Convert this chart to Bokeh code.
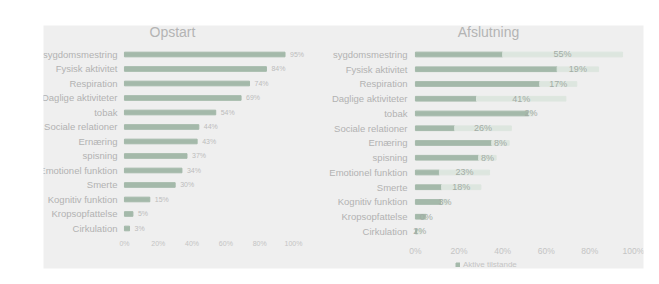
from bokeh.plotting import figure
from bokeh.models import Range1d, Legend, LegendItem
from bokeh.core.properties import value
from bokeh.embed import file_html
from bokeh.resources import INLINE

categories = ["sygdomsmestring", "Fysisk aktivitet", "Respiration", "Daglige aktiviteter",
              "tobak", "Sociale relationer", "Ernæring", "spisning", "Emotionel funktion",
              "Smerte", "Kognitiv funktion", "Kropsopfattelse", "Cirkulation"]
opstart = [95, 84, 74, 69, 54, 44, 43, 37, 34, 30, 15, 5, 3]
afslut_aktive = [40, 65, 57, 28, 52, 18, 35, 29, 11, 12, 12, 5, 1]
afslut_rest = [55, 19, 17, 41, 2, 26, 8, 8, 23, 18, 3, 0, 2]
x_ticks = [0, 20, 40, 60, 80, 100]
tick_labels = [f"{t}%" for t in x_ticks]
titles = ["Opstart", "Afslutning"]

GREY = "#efefef"
DARK = "#a4b9aa"
LIGHT = "#dde6df"
FONT = "Liberation Sans"
F = value(FONT)

n = len(categories)
rows = list(range(n))

p = figure(width=653, height=282, output_backend="svg", toolbar_location=None,
           x_axis_location=None, y_axis_location=None,
           x_range=Range1d(-47.9, 307.1), y_range=Range1d(14.76, -2.0),
           min_border_left=43, min_border_right=10, min_border_top=25, min_border_bottom=14)
p.extra_x_ranges = {"r": Range1d(-170.6, 104.6)}
p.extra_y_ranges = {"r": Range1d(14.51, -1.966)}
p.background_fill_color = GREY
p.border_fill_color = "white"
p.outline_line_color = None
p.grid.visible = False

# ---- Opstart (left panel) ----
p.hbar(y=rows, left=0, right=opstart, height=0.32, color=DARK)
p.text(x=opstart, y=rows, text=[f"{v}%" for v in opstart], x_offset=5,
       text_align="left", text_baseline="middle", text_font_size="7px",
       text_color="#bcbcbc", text_font=F)
p.text(x=[0] * n, y=rows, text=categories, x_offset=-7, text_align="right",
       text_baseline="middle", text_font_size="9.5px", text_color="#b2b2b2", text_font=F)
p.text(x=x_ticks, y=[n + 0.03] * len(x_ticks), text=tick_labels, text_align="center",
       text_baseline="middle", text_font_size="7px", text_color="#c4c4c4", text_font=F)
p.text(x=[28.4], y=[-1.52], text=[titles[0]], text_align="center",
       text_baseline="middle", text_font_size="14px", text_color="#b4b4b4", text_font=F)

# ---- Afslutning (right panel) ----
end = [a + r for a, r in zip(afslut_aktive, afslut_rest)]
mid = [a + r / 2 for a, r in zip(afslut_aktive, afslut_rest)]
r_dark = p.hbar(y=rows, left=0, right=afslut_aktive, height=0.32, color=DARK,
                x_range_name="r", y_range_name="r")
p.hbar(y=rows, left=afslut_aktive, right=end, height=0.32, color=LIGHT,
       x_range_name="r", y_range_name="r")
p.text(x=mid, y=rows, text=[f"{v}%" for v in afslut_rest], text_align="center",
       text_baseline="middle", text_font_size="9px", text_color="#a3aca5", text_font=F,
       x_range_name="r", y_range_name="r")
p.text(x=[0] * n, y=rows, text=categories, x_offset=-8, text_align="right",
       text_baseline="middle", text_font_size="9.5px", text_color="#b2b2b2", text_font=F,
       x_range_name="r", y_range_name="r")
p.text(x=x_ticks, y=[n + 0.29] * len(x_ticks), text=tick_labels, text_align="center",
       text_baseline="middle", text_font_size="8.5px", text_color="#c4c4c4", text_font=F,
       x_range_name="r", y_range_name="r")
p.text(x=[33.5], y=[-1.52], text=[titles[1]], text_align="center",
       text_baseline="middle", text_font_size="14px", text_color="#b4b4b4", text_font=F,
       x_range_name="r")

legend = Legend(items=[LegendItem(label="Aktive tilstande", renderers=[r_dark])],
                orientation="horizontal", location=(412, -1),
                background_fill_alpha=0, border_line_color=None,
                label_text_font=FONT, label_text_font_size="8px", label_text_color="#c4c4c4",
                glyph_width=5, glyph_height=5, padding=0, margin=0, spacing=2,
                label_standoff=3)
p.add_layout(legend)

open("out.html", "w").write(file_html(p, INLINE))
